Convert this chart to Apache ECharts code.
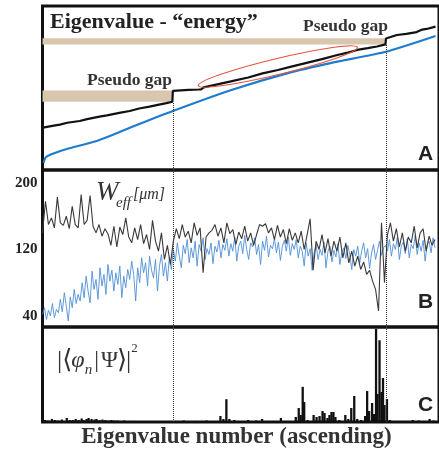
<!DOCTYPE html>
<html><head><meta charset="utf-8">
<script src="https://cdn.jsdelivr.net/npm/echarts@6/dist/echarts.min.js"></script>
<style>html,body{margin:0;padding:0;background:#fff}#c{width:439px;height:456px}</style>
</head><body><div id="c"></div>
<script>
// ---------- Panel A: eigenvalue "energy" (arbitrary units 0-100) ----------
const energyBlackX = [0.5,10,17.5,25,37.5,45,57.5,65,77.5,88,97.5,108,117.5,125,131,131.5,147.5,157.5,160,162.5,177.5,190,207.5,222,237.5,252,267.5,282,297.5,308,317.5,328,337.5,346,346.5,357.5,367,377.5,383,387.5,396.5];
const energyBlackY = [25.8,26.9,27.7,28.8,29.9,31.0,32.5,33.3,34.8,36.0,37.5,38.6,39.9,40.8,41.6,48.2,48.8,49.1,49.2,50.4,52.4,54.0,56.4,58.9,61.0,63.2,65.5,67.6,70.1,71.6,73.2,74.3,75.3,76.6,80.2,82.3,83.0,84.1,85.6,86.0,87.4];
const energyBlueX = [1,3.5,12.5,24.5,57.5,97.5,131.5,190.5,247.5,290.5,346.5,396.5];
const energyBlueY = [4.3,7.9,10.4,12.8,18.3,28.0,36.0,48.8,59.1,65.2,72.1,81.7];
const gapIndex = [131.5, 346.5];          // eigenvalue numbers of the two pseudo gaps
const gapLower = [41.6, 48.4];            // energy range of first pseudo gap
const gapUpper = [76.6, 80.3];            // energy range of second pseudo gap

// ---------- Panel B: W_eff [um] ----------
const weffTicks = [40, 120, 200];
const weffBlackStep = 3;
const weffBlack = [140,178,150,158,146,183,152,149,160,145,172,150,146,186,150,155,185,148,140,150,136,145,139,125,148,123,147,138,158,135,128,146,132,150,127,138,120,155,130,118,140,108,125,102,130,145,133,150,135,142,128,152,137,146,92,135,140,143,150,136,146,128,152,139,144,126,141,133,148,130,140,125,138,150,148,151,140,146,132,149,135,144,127,145,131,140,128,142,120,138,157,95,130,120,138,116,133,112,130,118,135,110,128,104,118,100,112,96,105,90,95,82,72,46,152,80,138,152,130,145,123,140,118,135,128,148,122,140,145,118,136,125,132];
const weffBlueStep = 2;
const weffBlue = [42,50,36,47,40,55,38,48,44,
 60,45,68,52,34,63,50,72,55,66,
 58,80,62,88,70,56,94,72,84,60,98,76,
 90,66,102,82,95,70,92,78,100,62,88,74,96,
 84,106,90,58,98,80,110,92,104,76,112,95,86,108,70,100,114,88,104,82,111,96,
 120,106,128,112,98,125,115,132,104,122,110,130,100,126,118,134,108,121,114,128,103,124,117,131,110,126,119,133,
 112,127,118,135,106,124,130,115,137,120,108,128,123,134,114,126,102,130,119,136,111,125,121,133,116,129,107,124,131,118,135,113,127,120,132,
 110,124,118,100,128,112,121,95,116,126,108,120,113,129,98,118,124,105,119,111,127,102,117,122,109,125,114,96,120,112,
 124,104,118,128,110,121,97,116,126,108,119,130,113,122,125,
 118,132,112,127,120,135,108,124,129,115,133,110,126,121,137,114,128,118,131,106,125,130,116,134,122];

// ---------- Panel C: |<phi_n|Psi>|^2 (arbitrary units 0-100) ----------
const overlapIndex = [2.5,5.5,9.5,12.5,15.5,19.5,21.5,24.5,27.5,30.5,33.5,36.5,39.5,41.5,44.5,46.5,49.5,52.5,54.5,57.5,60.5,63.5,66.5,69.5,72.5,75.5,78.5,82.5,87.5,92.5,142.5,154.5,165.5,179.5,182.5,185.5,188.5,193.5,207.5,215.5,221.5,227.5,240.5,247.5,255.5,258.5,260.5,262.5,264,267.5,273.5,276.5,279.5,282.5,284.5,287.5,289.5,291.5,293.5,295.5,299.5,305.5,308.5,311.5,314.5,317.5,321.5,325.5,327.5,329.5,332.5,334.5,336.5,338,340,342,343.5,345,347.5,350.5,354.5,362.5,373.5,379.5,385.5,390.5,394.5];
const overlapValue = [2.1,1.6,3.2,2.1,1.6,2.6,1.1,4.2,2.1,2.1,3.2,2.1,3.7,2.1,3.2,4.2,3.2,2.6,3.2,2.1,2.6,2.1,1.6,2.1,1.6,1.6,1.1,1.6,1.1,1.1,1.6,1.1,1.6,6.3,3.2,24,3.2,2.1,2.1,1.6,3.2,1.1,4.2,1.1,5.3,14.7,7.4,37,21,2.1,7.4,5.3,6.3,11.6,9.5,4.2,7.4,10.5,10.5,5.3,2.1,7.4,3.2,14.7,27.4,3.2,2.1,6.3,32.6,11.6,20,8.4,98,29.5,86,31.6,46.3,17.9,24.2,2.1,1.1,1.1,2.1,1.6,1.1,3.2,1.6];

const pair = (xs, ys) => ys.map((v, i) => [xs[i], v]);
const stepped = (ys, step) => ys.map((v, i) => [i * step, v]);

const mctx = document.createElement('canvas').getContext('2d');
function tw(t, f) { mctx.font = f; return mctx.measureText(t).width; }
function txt(x, y, text, font, fill, align) {
  return { type: 'text', x: x, y: y, z: 100, silent: true,
    style: { text: text, font: font, fill: fill || '#222',
      textAlign: align || 'left', textVerticalAlign: 'middle',
      align: align || 'left', verticalAlign: 'middle' } };
}

const SERIF = '"Liberation Serif", "Times New Roman", serif';
const SERIF_MATH = '"Liberation Serif", "DejaVu Serif", "DejaVu Sans", serif';
const graphics = [];
graphics.push(txt(50, 22, 'Eigenvalue - \u201Cenergy\u201D', 'bold 22px ' + SERIF, '#222'));
graphics.push(txt(303, 26, 'Pseudo gap', 'bold 17.5px ' + SERIF, '#333'));
graphics.push(txt(87, 80, 'Pseudo gap', 'bold 17.5px ' + SERIF, '#333'));
graphics.push(txt(425.5, 154, 'A', 'bold 21px "Liberation Sans", Arial, sans-serif', '#222', 'center'));
graphics.push(txt(425.5, 302, 'B', 'bold 21px "Liberation Sans", Arial, sans-serif', '#222', 'center'));
graphics.push(txt(425.5, 405, 'C', 'bold 21px "Liberation Sans", Arial, sans-serif', '#222', 'center'));
graphics.push(txt(236.5, 437, 'Eigenvalue number (ascending)', 'bold 23px ' + SERIF, '#333', 'center'));
// W_eff [um]
graphics.push(txt(96, 193, 'W', 'italic 27px ' + SERIF, '#333'));
graphics.push(txt(116, 203, 'eff', 'italic 15px ' + SERIF, '#333'));
graphics.push(txt(133, 195, '[\u03BCm]', 'italic 16px ' + SERIF, '#333'));
// |<phi_n|Psi>|^2
(function () {
  const pieces = [
    ['|', '26px ' + SERIF_MATH, 0, 0],
    ['\u27E8', '26px ' + SERIF_MATH, 0, -1],
    ['\u03C6', 'italic 24px ' + SERIF_MATH, 0, 0],
    ['n', 'italic 15px ' + SERIF_MATH, 9, 2],
    ['|', '24px ' + SERIF_MATH, 0, 2],
    ['\u03A8', '23px ' + SERIF_MATH, 0, -1],
    ['\u27E9', '26px ' + SERIF_MATH, 0, -1],
    ['|', '26px ' + SERIF_MATH, 0, 0],
    ['2', '13px ' + SERIF_MATH, -12, 0]
  ];
  let x = 57;
  pieces.forEach(p => {
    graphics.push(txt(x, 361 + p[2], p[0], p[1], '#333'));
    x += tw(p[0], p[1]) + p[3];
  });
})();
graphics.push({ type: 'ellipse', x: 277.8, y: 66.5, rotation: 0.236, z: 50, silent: true,
  shape: { cx: 0, cy: 0, rx: 81.8, ry: 8 },
  style: { fill: 'transparent', stroke: '#e8533f', lineWidth: 1.2 } });

const dotted = { type: 'dotted', color: '#333', width: 1 };
const gridBase = { left: 42.5, width: 400, show: true, borderColor: '#111', borderWidth: 3, backgroundColor: 'transparent' };

const option = {
  animation: false,
  grid: [
    Object.assign({ top: 6, height: 164 }, gridBase),
    Object.assign({ top: 170, height: 157 }, gridBase),
    Object.assign({ top: 327, height: 95 }, gridBase)
  ],
  xAxis: [0, 1, 2].map(i => ({ gridIndex: i, type: 'value', min: 0, max: 400, show: false })),
  yAxis: [
    { gridIndex: 0, type: 'value', min: 0, max: 100, show: false },
    { gridIndex: 1, type: 'value', min: 26.8, max: 215.6,
      axisLine: { show: false }, axisTick: { show: false }, splitLine: { show: false },
      axisLabel: { customValues: weffTicks, margin: 5, fontFamily: '"Liberation Serif", serif',
        fontWeight: 'bold', fontSize: 15, color: '#222' } },
    { gridIndex: 2, type: 'value', min: 0, max: 100, show: false }
  ],
  graphic: graphics,
  series: [
    { type: 'line', xAxisIndex: 0, yAxisIndex: 0, symbol: 'none', z: 3,
      data: pair(energyBlueX, energyBlueY), smooth: 0.2,
      lineStyle: { color: '#1f7ccc', width: 2.2 } },
    { type: 'line', xAxisIndex: 0, yAxisIndex: 0, symbol: 'none', z: 4,
      data: pair(energyBlackX, energyBlackY),
      lineStyle: { color: '#111', width: 2.2 },
      markArea: { silent: true, itemStyle: { color: '#d8c6af' },
        data: [
          [{ xAxis: 0, yAxis: gapLower[0] }, { xAxis: gapIndex[0], yAxis: gapLower[1] }],
          [{ xAxis: 0, yAxis: gapUpper[0] }, { xAxis: gapIndex[1], yAxis: gapUpper[1] }]
        ] },
      markLine: { silent: true, symbol: 'none', label: { show: false }, lineStyle: dotted,
        data: [
          [{ coord: [gapIndex[0], 0] }, { coord: [gapIndex[0], gapLower[0]] }],
          [{ coord: [gapIndex[1], 0] }, { coord: [gapIndex[1], gapUpper[0]] }]
        ] } },
    { type: 'line', xAxisIndex: 1, yAxisIndex: 1, symbol: 'none', z: 3,
      data: stepped(weffBlue, weffBlueStep),
      lineStyle: { color: '#4f8fd6', width: 0.9 } },
    { type: 'line', xAxisIndex: 1, yAxisIndex: 1, symbol: 'none', z: 4,
      data: stepped(weffBlack, weffBlackStep),
      lineStyle: { color: '#3a3a3a', width: 1.1 },
      markLine: { silent: true, symbol: 'none', label: { show: false }, lineStyle: dotted,
        data: [{ xAxis: gapIndex[0] }, { xAxis: gapIndex[1] }] } },
    { type: 'bar', xAxisIndex: 2, yAxisIndex: 2, barWidth: 2.3, z: 4,
      data: pair(overlapIndex, overlapValue),
      itemStyle: { color: '#111' },
      markLine: { silent: true, symbol: 'none', label: { show: false }, lineStyle: dotted,
        data: [{ xAxis: gapIndex[0] }, { xAxis: gapIndex[1] }] } }
  ]
};
const chart = echarts.init(document.getElementById('c'), null, { renderer: 'canvas' });
chart.setOption(option);
</script></body></html>
